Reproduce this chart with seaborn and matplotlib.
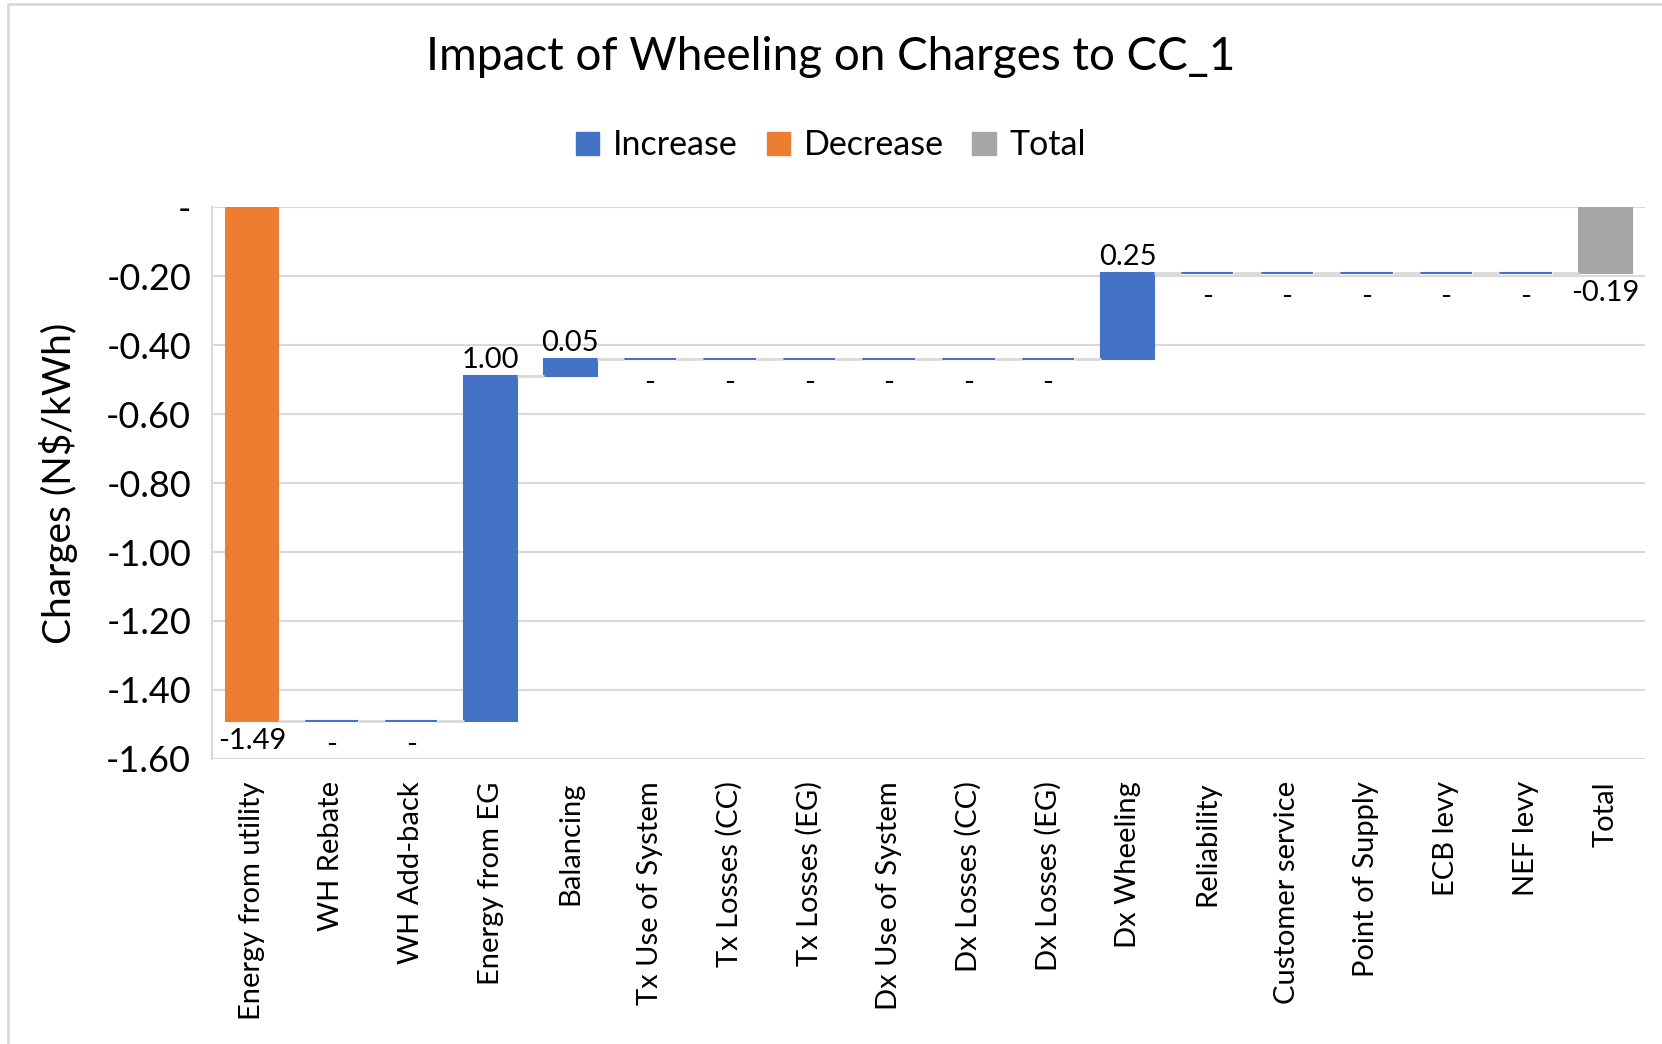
import numpy as np
import pandas as pd
import matplotlib
matplotlib.use("Agg")
import matplotlib.pyplot as plt
from matplotlib.patches import Patch, Rectangle
import seaborn as sns

categories = ["Energy from utility", "WH Rebate", "WH Add-back", "Energy from EG",
              "Balancing", "Tx Use of System", "Tx Losses (CC)", "Tx Losses (EG)",
              "Dx Use of System", "Dx Losses (CC)", "Dx Losses (EG)", "Dx Wheeling",
              "Reliability", "Customer service", "Point of Supply", "ECB levy",
              "NEF levy", "Total"]
changes = [-1.49, 0.0, 0.0, 1.00, 0.05, 0.0, 0.0, 0.0, 0.0, 0.0, 0.0, 0.25,
           0.0, 0.0, 0.0, 0.0, 0.0, -0.19]
kinds = ["Decrease", "Increase", "Increase", "Increase", "Increase", "Increase",
         "Increase", "Increase", "Increase", "Increase", "Increase", "Increase",
         "Increase", "Increase", "Increase", "Increase", "Increase", "Total"]
legend_order = ["Increase", "Decrease", "Total"]
colors = {"Increase": "#4472C4", "Decrease": "#ED7D31", "Total": "#A5A5A5"}
yticks = [0, -0.2, -0.4, -0.6, -0.8, -1.0, -1.2, -1.4, -1.6]
ytick_labels = ["-", "-0.20", "-0.40", "-0.60", "-0.80", "-1.00", "-1.20", "-1.40", "-1.60"]

# running levels
start, end = [], []
level = 0.0
for c, k in zip(changes, kinds):
    if k == "Total":
        start.append(0.0)
        end.append(c)
        level = c
    else:
        start.append(level)
        level = level + c
        end.append(level)

df = pd.DataFrame({"cat": categories, "change": changes, "kind": kinds,
                   "start": start, "end": end})
df["height"] = df["end"] - df["start"]

sns.set_theme(style="white")
plt.rcParams["font.family"] = ["Lato", "DejaVu Sans"]
plt.rcParams["text.color"] = "black"
plt.rcParams["axes.labelcolor"] = "black"
plt.rcParams["xtick.color"] = "black"
plt.rcParams["ytick.color"] = "black"

fig = plt.figure(figsize=(16.62, 10.44), dpi=100)
ax = fig.add_axes([0.1276, 0.273, 0.8622, 0.5287])

for k in legend_order:
    sub = df[df["kind"] == k]
    sns.barplot(data=sub, x="cat", y="height", order=categories, bottom=sub["start"].values,
                color=colors[k], saturation=1, width=0.66, ax=ax,
                edgecolor=colors[k], linewidth=1.5, label=k)

# connectors
for i in range(len(categories) - 1):
    ax.plot([i + 0.33, i + 0.67], [end[i], end[i]], color="#D9D9D9", lw=2, zorder=1,
            solid_capstyle="butt")

# data labels
lab_fs = 21
for i, (c, k) in enumerate(zip(changes, kinds)):
    lo = min(start[i], end[i])
    hi = max(start[i], end[i])
    if c == 0:
        ax.annotate("-", (i, lo), xytext=(0, -8), textcoords="offset points",
                    ha="center", va="top", fontsize=lab_fs)
    elif k == "Increase":
        ax.annotate(f"{c:.2f}", (i, hi), xytext=(0, 2), textcoords="offset points",
                    ha="center", va="bottom", fontsize=lab_fs)
    else:
        ax.annotate(f"{c:.2f}", (i, lo), xytext=(0, -5), textcoords="offset points",
                    ha="center", va="top", fontsize=lab_fs)

ax.set_ylim(-1.6, 0)
ax.set_xlim(-0.5, len(categories) - 0.5)
ax.set_yticks(yticks)
ax.set_yticklabels(ytick_labels, fontsize=26)
ax.set_xticks(range(len(categories)))
ax.set_xticklabels(categories, rotation=90, fontsize=21)
ax.tick_params(axis="y", length=0, pad=15)
ax.tick_params(axis="x", length=0, pad=16)
ax.grid(axis="y", color="#D9D9D9", lw=1.5)
ax.set_axisbelow(True)
for s in ["top", "right", "bottom"]:
    ax.spines[s].set_visible(False)
ax.spines["left"].set_color("#D9D9D9")
ax.spines["left"].set_linewidth(1.5)
ax.set_xlabel("")
ax.set_ylabel("Charges (N$/kWh)", fontsize=28, labelpad=20)

fig.text(0.5, 0.945, "Impact of Wheeling on Charges to CC_1", ha="center", va="center",
         fontsize=33)
handles = [Patch(facecolor=colors[k], edgecolor=colors[k]) for k in legend_order]
fig.legend(handles, legend_order, loc="center", bbox_to_anchor=(0.5, 0.861), ncol=3,
           frameon=False, fontsize=24.5, handlelength=0.68, handleheight=0.68,
           handletextpad=0.4, columnspacing=0.85)
if ax.get_legend() is not None:
    ax.get_legend().remove()

fig.patches.append(Rectangle((0.005, -0.01), 1.1, 1.006, transform=fig.transFigure,
                             fill=False, edgecolor="#D9D9D9", lw=2))
fig.savefig("out.png", dpi=100)
